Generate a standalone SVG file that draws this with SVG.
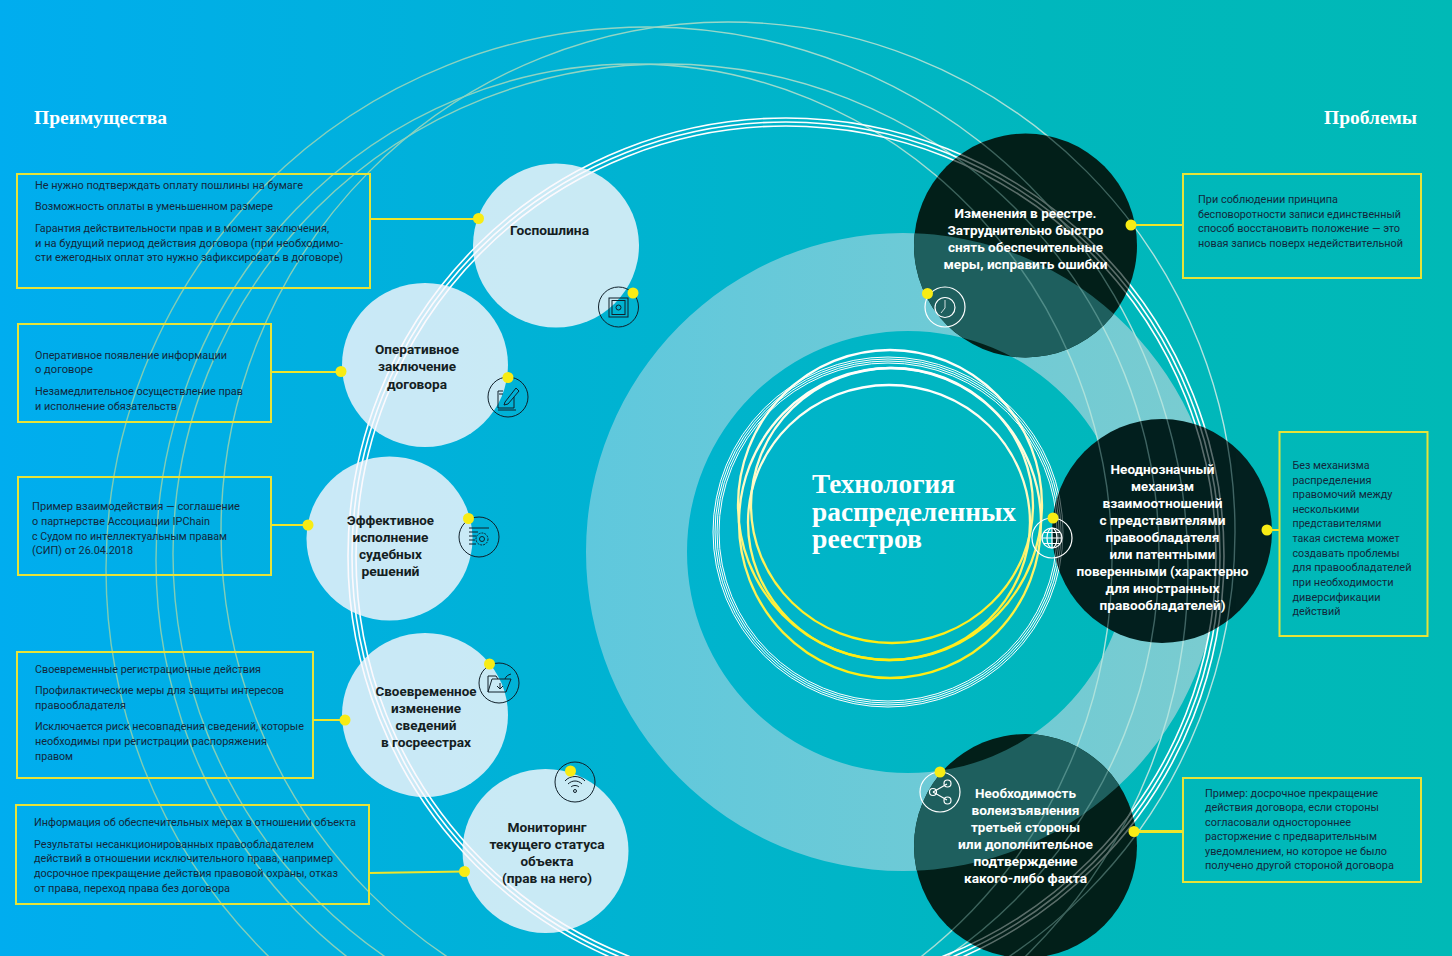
<svg xmlns="http://www.w3.org/2000/svg" width="1452" height="956" viewBox="0 0 1452 956">
<defs>
<linearGradient id="bg" x1="0" y1="0" x2="1" y2="0"><stop offset="0" stop-color="#00ADEF"/><stop offset=".72" stop-color="#00B7BD"/><stop offset="1" stop-color="#00B9B6"/></linearGradient>
<linearGradient id="ringFill" gradientUnits="userSpaceOnUse" x1="586" y1="0" x2="1220" y2="0"><stop offset="0" stop-color="#5FC8DD"/><stop offset="1" stop-color="#7ACCD0"/></linearGradient>
<linearGradient id="pale" gradientUnits="userSpaceOnUse" x1="100" y1="0" x2="1240" y2="0"><stop offset="0" stop-color="#7FCBB2"/><stop offset=".45" stop-color="#93D5C4"/><stop offset="1" stop-color="#B5E5E2"/></linearGradient>
<linearGradient id="yw" x1="0" y1="0" x2="0" y2="1"><stop offset="0" stop-color="#FFFFFF"/><stop offset=".35" stop-color="#FFFBD0"/><stop offset=".75" stop-color="#FFF04A"/><stop offset="1" stop-color="#FFEC10"/></linearGradient>
<path id="ringShape" fill-rule="evenodd" clip-rule="evenodd" d="M586 552a317 319 0 1 0 634 0a317 319 0 1 0-634 0ZM687 552a221 221 0 1 0 442 0a221 221 0 1 0-442 0Z"/>
<clipPath id="cTop"><ellipse cx="1025.500" cy="245.500" rx="111.500" ry="112"/></clipPath>
<clipPath id="cMid"><ellipse cx="1162" cy="531" rx="110" ry="112"/></clipPath>
<clipPath id="cBot"><ellipse cx="1025.500" cy="846" rx="111.500" ry="112"/></clipPath>
</defs>
<style>
.pl{fill:none;stroke:url(#pale);stroke-width:1.4}
.wl{fill:none;stroke:#fff;stroke-width:1.6}
.wf{fill:none;stroke:#fff;stroke-width:1}
.yr{fill:none;stroke:url(#yw);stroke-width:2.3}
.box{fill:none;stroke:#E6E338;stroke-width:2}
.con{fill:none;stroke:#EFE52A;stroke-width:2}
.light{fill:#FBF8FC;fill-opacity:.8}
.dark{fill:#03201A}
.dot{fill:#F8EC14}
.ib{fill:none;stroke:#10202A;stroke-width:1}
.iw{fill:none;stroke:#fff;stroke-width:1.2}
text{font-family:"Roboto","Liberation Sans",sans-serif}
.t{font-size:11px;fill:#12283C}
.nl{font-size:13px;font-weight:700;fill:#14201F;text-anchor:middle}
.nw{font-size:13px;font-weight:700;fill:#fff;text-anchor:middle}
.h{font-family:"Liberation Serif",serif;font-weight:700;fill:#fff;font-size:18px}
.title{font-family:"Liberation Serif",serif;font-weight:700;fill:#fff;font-size:28px}
</style>
<rect width="1452" height="956" fill="url(#bg)"/>
<use href="#ringShape" fill="url(#ringFill)"/>
<g id="lines">
<ellipse class="pl" cx="728" cy="532" rx="507" ry="510"/>
<ellipse class="pl" cx="647" cy="569" rx="541" ry="542"/>
<ellipse class="pl" cx="666" cy="554" rx="493" ry="490"/>
<ellipse class="pl" cx="634" cy="560" rx="478" ry="496"/>
<circle class="wl" cx="786" cy="556" r="430"/>
<circle class="wl" cx="786" cy="556" r="434"/>
<circle class="wl" cx="786" cy="556" r="438"/>
<circle class="wf" cx="888" cy="532" r="169"/>
<circle class="wf" cx="888" cy="532" r="171"/>
<circle class="wf" cx="888" cy="532" r="173"/>
<circle class="wf" cx="888" cy="532" r="175"/>
</g>
<g id="rings">
<ellipse class="yr" cx="890" cy="505" rx="152" ry="155"/>
<ellipse class="yr" cx="890" cy="523" rx="151" ry="155"/>
<ellipse class="yr" cx="892" cy="505.500" rx="141" ry="137.500"/>
<ellipse class="yr" cx="889" cy="522.500" rx="141" ry="137.500"/>
</g>
<text class="title" x="812" y="493" textLength="143" lengthAdjust="spacingAndGlyphs">Технология</text>
<text class="title" x="812" y="521" textLength="204" lengthAdjust="spacingAndGlyphs">распределенных</text>
<text class="title" x="812" y="548" textLength="110" lengthAdjust="spacingAndGlyphs">реестров</text>
<text class="h" x="34" y="124" textLength="133" lengthAdjust="spacingAndGlyphs">Преимущества</text>
<text class="h" x="1324" y="124" textLength="93" lengthAdjust="spacingAndGlyphs">Проблемы</text>

<g id="connectors">
<path class="con" d="M371 219H478"/>
<path class="con" d="M271 372H340"/>
<path class="con" d="M271 525H308"/>
<path class="con" d="M313 720H345"/>
<path class="con" d="M369 873L464 871.500"/>
<path class="con" d="M1131 225H1183"/>
<path class="con" d="M1267 530H1280"/>
<path class="con" style="stroke-width:3" d="M1134 831.500H1183"/>
</g>

<g id="box-1"><rect class="box" x="17" y="174" width="353" height="114"/>
<text class="t" x="35" y="189" textLength="268" lengthAdjust="spacingAndGlyphs">Не нужно подтверждать оплату пошлины на бумаге</text>
<text class="t" x="35" y="210" textLength="238" lengthAdjust="spacingAndGlyphs">Возможность оплаты в уменьшенном размере</text>
<text class="t" x="35" y="232" textLength="294" lengthAdjust="spacingAndGlyphs">Гарантия действительности прав и в момент заключения,</text>
<text class="t" x="35" y="247" textLength="308" lengthAdjust="spacingAndGlyphs">и на будущий период действия договора (при необходимо-</text>
<text class="t" x="35" y="261" textLength="308" lengthAdjust="spacingAndGlyphs">сти ежегодных оплат это нужно зафиксировать в договоре)</text></g>
<g id="box-2"><rect class="box" x="18" y="324" width="253" height="98"/>
<text class="t" x="35" y="359" textLength="192" lengthAdjust="spacingAndGlyphs">Оперативное появление информации</text>
<text class="t" x="35" y="373" textLength="58" lengthAdjust="spacingAndGlyphs">о договоре</text>
<text class="t" x="35" y="395" textLength="208" lengthAdjust="spacingAndGlyphs">Незамедлительное осуществление прав</text>
<text class="t" x="35" y="410" textLength="142" lengthAdjust="spacingAndGlyphs">и исполнение обязательств</text></g>
<g id="box-3"><rect class="box" x="18" y="477" width="253" height="98"/>
<text class="t" x="32" y="510" textLength="208" lengthAdjust="spacingAndGlyphs">Пример взаимодействия — соглашение</text>
<text class="t" x="32" y="525" textLength="178" lengthAdjust="spacingAndGlyphs">о партнерстве Ассоциации IPChain</text>
<text class="t" x="32" y="540" textLength="195" lengthAdjust="spacingAndGlyphs">с Судом по интеллектуальным правам</text>
<text class="t" x="32" y="554" textLength="101" lengthAdjust="spacingAndGlyphs">(СИП) от 26.04.2018</text></g>
<g id="box-4"><rect class="box" x="17" y="652" width="296" height="126"/>
<text class="t" x="35" y="673" textLength="226" lengthAdjust="spacingAndGlyphs">Своевременные регистрационные действия</text>
<text class="t" x="35" y="694" textLength="249" lengthAdjust="spacingAndGlyphs">Профилактические меры для защиты интересов</text>
<text class="t" x="35" y="709" textLength="91" lengthAdjust="spacingAndGlyphs">правообладателя</text>
<text class="t" x="35" y="730" textLength="269" lengthAdjust="spacingAndGlyphs">Исключается риск несовпадения сведений, которые</text>
<text class="t" x="35" y="745" textLength="232" lengthAdjust="spacingAndGlyphs">необходимы при регистрации распоряжения</text>
<text class="t" x="35" y="760" textLength="38" lengthAdjust="spacingAndGlyphs">правом</text></g>
<g id="box-5"><rect class="box" x="16" y="805" width="353" height="99"/>
<text class="t" x="34" y="826" textLength="322" lengthAdjust="spacingAndGlyphs">Информация об обеспечительных мерах в отношении объекта</text>
<text class="t" x="34" y="848" textLength="280" lengthAdjust="spacingAndGlyphs">Результаты несанкционированных правообладателем</text>
<text class="t" x="34" y="862" textLength="299" lengthAdjust="spacingAndGlyphs">действий в отношении исключительного права, например</text>
<text class="t" x="34" y="877" textLength="304" lengthAdjust="spacingAndGlyphs">досрочное прекращение действия правовой охраны, отказ</text>
<text class="t" x="34" y="892" textLength="196" lengthAdjust="spacingAndGlyphs">от права, переход права без договора</text></g>
<g id="box-r1"><rect class="box" x="1183" y="174" width="238" height="104"/>
<text class="t" x="1198" y="203" textLength="140" lengthAdjust="spacingAndGlyphs">При соблюдении принципа</text>
<text class="t" x="1198" y="218" textLength="203" lengthAdjust="spacingAndGlyphs">бесповоротности записи единственный</text>
<text class="t" x="1198" y="232" textLength="202" lengthAdjust="spacingAndGlyphs">способ восстановить положение — это</text>
<text class="t" x="1198" y="247" textLength="205" lengthAdjust="spacingAndGlyphs">новая запись поверх недействительной</text></g>
<g id="box-r2"><rect class="box" x="1279.500" y="432" width="148" height="204"/>
<text class="t" x="1292.500" y="469" textLength="77" lengthAdjust="spacingAndGlyphs">Без механизма</text>
<text class="t" x="1292.500" y="484" textLength="79" lengthAdjust="spacingAndGlyphs">распределения</text>
<text class="t" x="1292.500" y="498" textLength="100" lengthAdjust="spacingAndGlyphs">правомочий между</text>
<text class="t" x="1292.500" y="513" textLength="67" lengthAdjust="spacingAndGlyphs">несколькими</text>
<text class="t" x="1292.500" y="527" textLength="89" lengthAdjust="spacingAndGlyphs">представителями</text>
<text class="t" x="1292.500" y="542" textLength="107" lengthAdjust="spacingAndGlyphs">такая система может</text>
<text class="t" x="1292.500" y="557" textLength="107" lengthAdjust="spacingAndGlyphs">создавать проблемы</text>
<text class="t" x="1292.500" y="571" textLength="119" lengthAdjust="spacingAndGlyphs">для правообладателей</text>
<text class="t" x="1292.500" y="586" textLength="101" lengthAdjust="spacingAndGlyphs">при необходимости</text>
<text class="t" x="1292.500" y="601" textLength="88" lengthAdjust="spacingAndGlyphs">диверсификации</text>
<text class="t" x="1292.500" y="615" textLength="48" lengthAdjust="spacingAndGlyphs">действий</text></g>
<g id="box-r3"><rect class="box" x="1183" y="778" width="238" height="104"/>
<text class="t" x="1205" y="797" textLength="173" lengthAdjust="spacingAndGlyphs">Пример: досрочное прекращение</text>
<text class="t" x="1205" y="811" textLength="174" lengthAdjust="spacingAndGlyphs">действия договора, если стороны</text>
<text class="t" x="1205" y="826" textLength="146" lengthAdjust="spacingAndGlyphs">согласовали одностороннее</text>
<text class="t" x="1205" y="840" textLength="172" lengthAdjust="spacingAndGlyphs">расторжение с предварительным</text>
<text class="t" x="1205" y="855" textLength="182" lengthAdjust="spacingAndGlyphs">уведомлением, но которое не было</text>
<text class="t" x="1205" y="869" textLength="189" lengthAdjust="spacingAndGlyphs">получено другой стороной договора</text></g>

<g id="node-gosposhlina">
<ellipse class="light" cx="556" cy="245.500" rx="83" ry="82"/>
<text class="nl" x="549.500" y="235" textLength="79" lengthAdjust="spacingAndGlyphs">Госпошлина</text>
<circle class="ib" cx="618.500" cy="307" r="20"/>
<rect class="ib" x="609" y="298" width="19" height="19"/><rect class="ib" x="612" y="300.500" width="13" height="14"/><circle class="ib" cx="618.500" cy="307.500" r="2.500"/>
<circle class="dot" cx="633" cy="293" r="5.500"/><circle class="dot" cx="478.500" cy="218.500" r="5.500"/>
</g>
<g id="node-operative">
<ellipse class="light" cx="425" cy="365" rx="83" ry="82"/>
<text class="nl" x="417" y="353.500" textLength="84" lengthAdjust="spacingAndGlyphs">Оперативное</text>
<text class="nl" x="417" y="371" textLength="78" lengthAdjust="spacingAndGlyphs">заключение</text>
<text class="nl" x="417" y="388.500" textLength="60" lengthAdjust="spacingAndGlyphs">договора</text>
<circle class="ib" cx="508" cy="397" r="20"/>
<path class="ib" d="M503 391H498V408H514V397M499 394H503M505 402L516 388L519 391L508 404L504 405ZM498 410H516"/>
<circle class="dot" cx="508" cy="377.500" r="5.500"/><circle class="dot" cx="341" cy="371.500" r="5.500"/>
</g>
<g id="node-effective">
<ellipse class="light" cx="389.500" cy="538.500" rx="83" ry="82"/>
<text class="nl" x="390.500" y="524.500" textLength="87" lengthAdjust="spacingAndGlyphs">Эффективное</text>
<text class="nl" x="390.500" y="541.500" textLength="76" lengthAdjust="spacingAndGlyphs">исполнение</text>
<text class="nl" x="390.500" y="558.500" textLength="63" lengthAdjust="spacingAndGlyphs">судебных</text>
<text class="nl" x="390.500" y="575.500" textLength="58" lengthAdjust="spacingAndGlyphs">решений</text>
<circle class="ib" cx="479" cy="537" r="20"/>
<path class="ib" d="M469 528H489M469 532H478M469 536H476M469 540H475M469 544H476"/>
<circle class="ib" cx="482" cy="539" r="6" stroke-dasharray="2 1"/><circle class="ib" cx="482" cy="539" r="2.500"/>
<circle class="dot" cx="468.500" cy="518.500" r="5.500"/><circle class="dot" cx="308" cy="525" r="5.500"/>
</g>
<g id="node-timely">
<ellipse class="light" cx="425" cy="715" rx="83" ry="82"/>
<text class="nl" x="426" y="695.500" textLength="101" lengthAdjust="spacingAndGlyphs">Своевременное</text>
<text class="nl" x="426" y="712.500" textLength="70" lengthAdjust="spacingAndGlyphs">изменение</text>
<text class="nl" x="426" y="729.500" textLength="61" lengthAdjust="spacingAndGlyphs">сведений</text>
<text class="nl" x="426" y="746.500" textLength="90" lengthAdjust="spacingAndGlyphs">в госреестрах</text>
<circle class="ib" cx="499" cy="683" r="20"/>
<path class="ib" d="M488 692L492 679H511L506 692H488M488 692V676H496L498 679M500 683V688M497 686L500 689L503 686M505 679C506 676 508 675 511 674"/>
<circle class="dot" cx="489.500" cy="664" r="5.500"/><circle class="dot" cx="345" cy="720" r="5.500"/>
</g>
<g id="node-monitoring">
<ellipse class="light" cx="545.500" cy="851" rx="83" ry="82"/>
<text class="nl" x="547" y="831.500" textLength="79" lengthAdjust="spacingAndGlyphs">Мониторинг</text>
<text class="nl" x="547" y="849" textLength="115" lengthAdjust="spacingAndGlyphs">текущего статуса</text>
<text class="nl" x="547" y="866" textLength="53" lengthAdjust="spacingAndGlyphs">объекта</text>
<text class="nl" x="547" y="883" textLength="90" lengthAdjust="spacingAndGlyphs">(прав на него)</text>
<circle class="ib" cx="575" cy="782" r="20"/>
<path class="ib" d="M565 781C570 775 580 775 585 781M568 784C572 780 578 780 582 784M571 787C573 785 577 785 579 787"/><circle class="ib" cx="575" cy="791" r="1.500"/>
<circle class="dot" cx="570.500" cy="771" r="5.500"/><circle class="dot" cx="464.500" cy="871.500" r="5.500"/>
</g>

<g id="node-registry">
<ellipse class="dark" cx="1025.500" cy="245.500" rx="111.500" ry="112"/>
<g clip-path="url(#cTop)"><use href="#ringShape" fill="#1F605E"/></g>
<g clip-path="url(#cTop)" opacity=".35"><use href="#lines"/></g>
<text class="nw" x="1025.500" y="217.500" textLength="142" lengthAdjust="spacingAndGlyphs">Изменения в реестре.</text>
<text class="nw" x="1025.500" y="234.500" textLength="156" lengthAdjust="spacingAndGlyphs">Затруднительно быстро</text>
<text class="nw" x="1025.500" y="251.500" textLength="155" lengthAdjust="spacingAndGlyphs">снять обеспечительные</text>
<text class="nw" x="1025.500" y="268.500" textLength="164" lengthAdjust="spacingAndGlyphs">меры, исправить ошибки</text>
<circle class="iw" cx="945" cy="307" r="20"/><circle class="iw" cx="945" cy="307.500" r="10" stroke-width=".8"/><path class="iw" style="stroke-width:.8" d="M945 300V308L941 313"/>
<circle class="dot" cx="927.500" cy="293.500" r="5.500"/><circle class="dot" cx="1131" cy="225" r="5.500"/>
</g>
<g id="node-mechanism">
<ellipse class="dark" cx="1162" cy="531" rx="110" ry="112" style="fill:#03201F"/>
<g clip-path="url(#cMid)" opacity=".35"><use href="#lines"/></g>
<text class="nw" x="1162.500" y="473.500" textLength="104" lengthAdjust="spacingAndGlyphs">Неоднозначный</text>
<text class="nw" x="1162.500" y="490.500" textLength="63" lengthAdjust="spacingAndGlyphs">механизм</text>
<text class="nw" x="1162.500" y="507.500" textLength="120" lengthAdjust="spacingAndGlyphs">взаимоотношений</text>
<text class="nw" x="1162.500" y="524.500" textLength="126" lengthAdjust="spacingAndGlyphs">с представителями</text>
<text class="nw" x="1162.500" y="541.500" textLength="114" lengthAdjust="spacingAndGlyphs">правообладателя</text>
<text class="nw" x="1162.500" y="558.500" textLength="106" lengthAdjust="spacingAndGlyphs">или патентными</text>
<text class="nw" x="1162.500" y="575.500" textLength="172" lengthAdjust="spacingAndGlyphs">поверенными (характерно</text>
<text class="nw" x="1162.500" y="592.500" textLength="114" lengthAdjust="spacingAndGlyphs">для иностранных</text>
<text class="nw" x="1162.500" y="609.500" textLength="126" lengthAdjust="spacingAndGlyphs">правообладателей)</text>
<circle class="iw" cx="1052" cy="538" r="20"/><circle class="iw" cx="1052" cy="538" r="10"/><ellipse class="iw" cx="1052" cy="538" rx="5" ry="10"/><path class="iw" d="M1052 528V548M1042 538H1062M1044 532.500H1060M1044 543.500H1060"/>
<circle class="dot" cx="1053" cy="518" r="5.500"/><circle class="dot" cx="1267" cy="530" r="5.500"/>
</g>
<g id="node-third-party">
<ellipse class="dark" cx="1025.500" cy="846" rx="111.500" ry="112"/>
<g clip-path="url(#cBot)"><use href="#ringShape" fill="#1F605E"/></g>
<g clip-path="url(#cBot)" opacity=".35"><use href="#lines"/></g>
<text class="nw" x="1025.500" y="797.500" textLength="101" lengthAdjust="spacingAndGlyphs">Необходимость</text>
<text class="nw" x="1025.500" y="815" textLength="108" lengthAdjust="spacingAndGlyphs">волеизъявления</text>
<text class="nw" x="1025.500" y="832" textLength="109" lengthAdjust="spacingAndGlyphs">третьей стороны</text>
<text class="nw" x="1025.500" y="849" textLength="135" lengthAdjust="spacingAndGlyphs">или дополнительное</text>
<text class="nw" x="1025.500" y="866" textLength="104" lengthAdjust="spacingAndGlyphs">подтверждение</text>
<text class="nw" x="1025.500" y="883" textLength="123" lengthAdjust="spacingAndGlyphs">какого-либо факта</text>
<circle class="iw" cx="940" cy="792" r="20"/><path class="iw" d="M933 792L947 784M933 792L947 800"/><circle class="iw" cx="933" cy="792" r="3.500"/><circle class="iw" cx="947.500" cy="783.500" r="3.500"/><circle class="iw" cx="947.500" cy="800.500" r="3.500"/>
<circle class="dot" cx="940" cy="772" r="5.500"/><circle class="dot" cx="1134" cy="831.500" r="5.500"/>
</g>
</svg>
